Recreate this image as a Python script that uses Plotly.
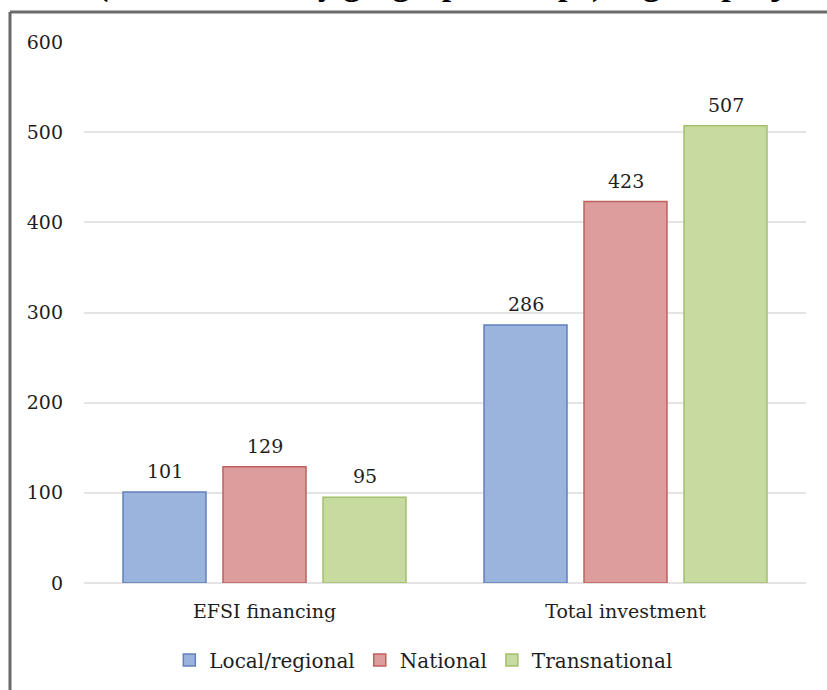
import plotly.graph_objects as go

categories = ["EFSI financing", "Total investment"]
series_names = ["Local/regional", "National", "Transnational"]
local_regional = [101, 286]
national = [129, 423]
transnational = [95, 507]
y_ticks = [0, 100, 200, 300, 400, 500, 600]

fills = ["#9bb4dd", "#dc9d9c", "#c7daa0"]
edges = ["#5f80bb", "#c0605d", "#a3c06b"]
font_family = "DejaVu Serif"
text_color = "#1e1e1e"

fig = go.Figure()
for name, vals, fc, ec in zip(series_names, [local_regional, national, transnational], fills, edges):
    fig.add_trace(go.Bar(
        x=categories, y=vals, name=name,
        marker=dict(color=fc, line=dict(color=ec, width=1.5)),
    ))

# value labels above each bar
bar_step = 100
for i, vals in enumerate([local_regional, national, transnational]):
    for cat, v in zip(categories, vals):
        fig.add_annotation(
            x=cat, y=v, xref="x", yref="y", text=str(v), showarrow=False,
            xshift=(i - 1) * bar_step, yshift=21,
            font=dict(family=font_family, size=19, color=text_color),
        )

# heading, mostly above the visible page
fig.add_annotation(
    x=0.015, y=1.108, xref="paper", yref="paper", xanchor="left", yanchor="middle",
    text="<b>(EUR million by geographic scope), signed projects</b>", showarrow=False,
    font=dict(family="Liberation Serif", size=34, color="#000"),
)

# frame lines (top and left)
fig.add_shape(type="line", xref="paper", yref="paper", x0=-0.1025, x1=1.04, y0=1.0555, y1=1.0555,
              line=dict(color="#6a6a6a", width=3))
fig.add_shape(type="line", xref="paper", yref="paper", x0=-0.1025, x1=-0.1025, y0=1.0555, y1=-0.2,
              line=dict(color="#6a6a6a", width=3))

fig.update_layout(
    width=827, height=690,
    margin=dict(l=84, r=21, t=42, b=107),
    paper_bgcolor="white", plot_bgcolor="white",
    barmode="group", bargap=0.169, bargroupgap=0.17,
    font=dict(family=font_family, size=19, color=text_color),
    showlegend=True,
    legend=dict(orientation="h", x=0.47, xanchor="center",
                yref="container", y=0.0435, yanchor="middle",
                font=dict(family=font_family, size=20, color=text_color),
                itemwidth=30, tracegroupgap=0),
    xaxis=dict(showgrid=False, showline=False, ticks="", ticklabelstandoff=15, automargin=False,
               tickfont=dict(family=font_family, size=19, color=text_color)),
    yaxis=dict(range=[0, 600], tickvals=y_ticks, showgrid=True, gridcolor="#e4e4e4", gridwidth=2,
               zeroline=True, zerolinecolor="#e4e4e4", zerolinewidth=2,
               ticklabelstandoff=20, automargin=False,
               tickfont=dict(family=font_family, size=19, color=text_color)),
)

fig.write_html("out.html")
